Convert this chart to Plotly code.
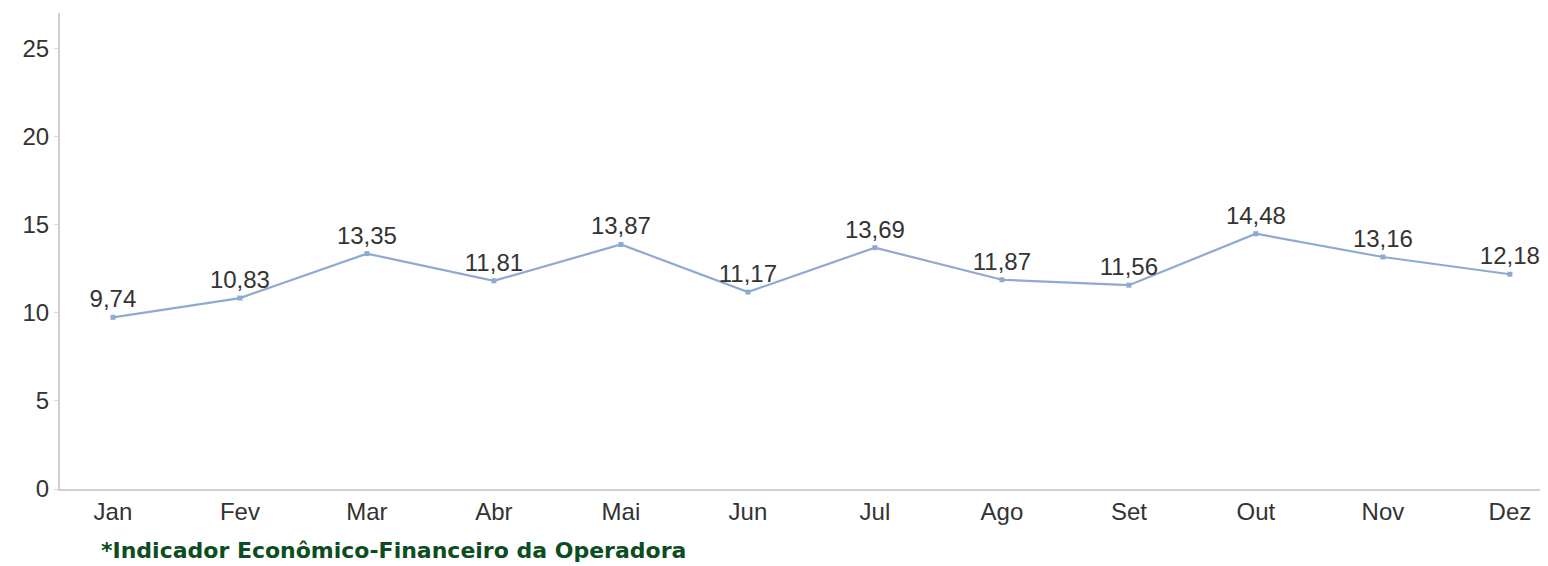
import plotly.graph_objects as go

months = ["Jan", "Fev", "Mar", "Abr", "Mai", "Jun", "Jul", "Ago", "Set", "Out", "Nov", "Dez"]
values = [9.74, 10.83, 13.35, 11.81, 13.87, 11.17, 13.69, 11.87, 11.56, 14.48, 13.16, 12.18]
labels = [f"{v:.2f}".replace(".", ",") for v in values]
y_ticks = [0, 5, 10, 15, 20, 25]
footnote = "*Indicador Econômico-Financeiro da Operadora"

xpos = list(range(len(months)))

# page body has an 8px margin; figure sized/placed to compensate
W, H = 1540, 558
ML, MT, MB = 52, 5, 77
plot_h = H - MT - MB

fig = go.Figure()
fig.add_trace(go.Scatter(
    x=xpos, y=values, mode="lines+markers+text",
    line=dict(color="#8eaad0", width=2.2),
    marker=dict(symbol="square", size=5, color="#8eaad0"),
    text=labels, textposition="top center",
    textfont=dict(family="Liberation Sans, Arial", size=24, color="#333333"),
    cliponaxis=False, showlegend=False,
))

fig.update_layout(
    width=W, height=H,
    margin=dict(l=ML, r=0, t=MT, b=MB),
    paper_bgcolor="white", plot_bgcolor="white",
    font=dict(family="Liberation Sans, Arial", size=24, color="#333333"),
    xaxis=dict(
        tickmode="array", tickvals=xpos, ticktext=months,
        range=[-0.417, 11.3], showgrid=False, zeroline=False,
        showline=True, linecolor="#d0d0d0", linewidth=2,
        ticks="", tickfont=dict(size=24, color="#333333"),
    ),
    yaxis=dict(
        tickvals=y_ticks, range=[0, 27], showgrid=False, zeroline=False,
        showline=True, linecolor="#d0d0d0", linewidth=2,
        ticks="outside", ticklen=4, tickcolor="#d9d9d9", tickwidth=1,
        tickfont=dict(size=24, color="#333333"),
    ),
    annotations=[dict(
        text=f"<b>{footnote}</b>", xref="paper", yref="paper",
        x=(99 - 8 - ML) / (W - ML), y=(481 - 542) / plot_h,
        xanchor="left", yanchor="middle",
        showarrow=False,
        font=dict(family="DejaVu Sans", size=22, color="#0b4d1f"),
    )],
)

fig.write_html("out.html")
